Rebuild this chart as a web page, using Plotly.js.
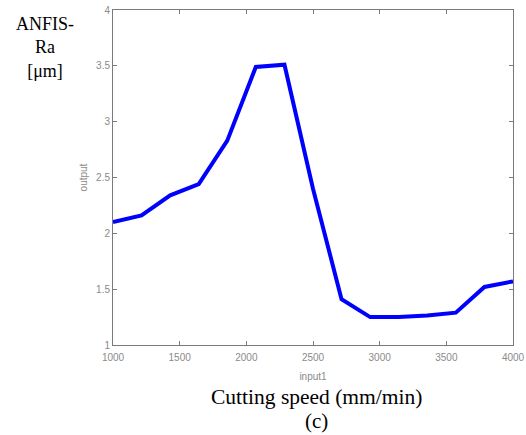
<!DOCTYPE html>
<html>
<head>
<meta charset="utf-8">
<script src="https://cdn.plot.ly/plotly-3.0.1.min.js"></script>
<style>html,body{margin:0;padding:0;background:#fff;}#chart{width:526px;height:435px;}</style>
</head>
<body>
<div id="chart"></div>
<script>
var cuttingSpeed = [1000, 1214, 1429, 1643, 1857, 2071, 2286, 2500, 2714, 2929, 3143, 3357, 3571, 3786, 4000];
var anfisRa = [2.10, 2.16, 2.34, 2.44, 2.83, 3.49, 3.51, 2.40, 1.41, 1.25, 1.25, 1.265, 1.29, 1.52, 1.57];
var xTicks = [1000, 1500, 2000, 2500, 3000, 3500, 4000];
var yTicks = [1, 1.5, 2, 2.5, 3, 3.5, 4];
var yTickText = ['1', '1.5', '2', '2.5', '3', '3.5', '4'];

var trace = {
  x: cuttingSpeed, y: anfisRa, type: 'scatter', mode: 'lines',
  line: {color: '#0000ff', width: 4}, hoverinfo: 'none'
};
var axisCommon = {
  showline: true, linecolor: '#7a7a7a', linewidth: 1, mirror: 'ticks',
  ticks: 'inside', ticklen: 4, tickcolor: '#7a7a7a', tickwidth: 1,
  showgrid: false, zeroline: false,
  tickfont: {family: 'Liberation Sans, Arial, sans-serif', size: 10, color: '#8a8a8a'}
};
var layout = {
  width: 526, height: 435,
  margin: {l: 113, r: 13, t: 10, b: 90},
  paper_bgcolor: '#ffffff', plot_bgcolor: '#ffffff',
  showlegend: false,
  xaxis: Object.assign({}, axisCommon, {
    range: [1000, 4000], tickvals: xTicks, ticktext: xTicks.map(String),
    ticklabelstandoff: 3,
    title: {text: 'input1', font: {family: 'Liberation Sans, Arial, sans-serif', size: 10, color: '#8a8a8a'}, standoff: 10}
  }),
  yaxis: Object.assign({}, axisCommon, {
    range: [1, 4], tickvals: yTicks, ticktext: yTickText,
    title: {text: 'output', font: {family: 'Liberation Sans, Arial, sans-serif', size: 10, color: '#8a8a8a'}, standoff: 6}
  }),
  annotations: [
    {text: 'ANFIS-<br>Ra<br>[μm]', xref: 'paper', yref: 'paper', x: -0.17, y: 0.887,
     xanchor: 'center', yanchor: 'middle', showarrow: false, align: 'center',
     font: {family: 'Liberation Serif, Times New Roman, serif', size: 18, color: '#000'}},
    {text: 'Cutting speed (mm/min)', xref: 'paper', yref: 'paper', x: 0.5098, y: -0.155,
     xanchor: 'center', yanchor: 'middle', showarrow: false,
     font: {family: 'Liberation Serif, Times New Roman, serif', size: 21.5, color: '#000'}},
    {text: '(c)', xref: 'paper', yref: 'paper', x: 0.5098, y: -0.226,
     xanchor: 'center', yanchor: 'middle', showarrow: false,
     font: {family: 'Liberation Serif, Times New Roman, serif', size: 21, color: '#000'}}
  ]
};
Plotly.newPlot('chart', [trace], layout, {displayModeBar: false, staticPlot: true});
</script>
</body>
</html>
